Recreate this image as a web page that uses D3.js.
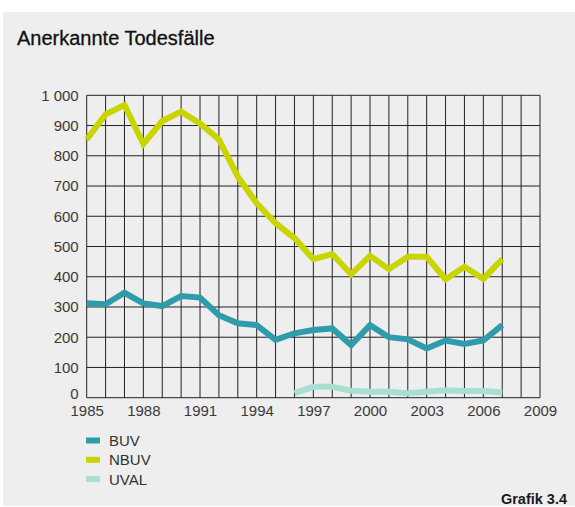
<!DOCTYPE html>
<html>
<head>
<meta charset="utf-8">
<script src="https://cdn.jsdelivr.net/npm/d3@7"></script>
<style>
  html, body { margin: 0; padding: 0; background: #ffffff; }
  svg { display: block; }
  text { font-family: "Liberation Sans", Arial, Helvetica, sans-serif; }
</style>
</head>
<body>
<svg id="chart" width="575" height="507"></svg>
<script>
const years = d3.range(1985, 2008);
const buv = [312, 309, 347, 312, 303, 336, 331, 273, 246, 240, 191, 213, 224, 229, 174, 240, 200, 193, 163, 189, 178, 189, 240];
const nbuv = [854, 937, 968, 839, 915, 946, 907, 854, 731, 643, 577, 528, 458, 475, 408, 469, 425, 466, 466, 392, 433, 393, 458];
const uvalYears = d3.range(1996, 2008);
const uval = [15, 36, 36, 23, 20, 20, 15, 20, 25, 22, 22, 17];
const xTicks = [1985, 1988, 1991, 1994, 1997, 2000, 2003, 2006, 2009];
const yTicks = [0, 100, 200, 300, 400, 500, 600, 700, 800, 900, 1000];
const seriesNames = ["BUV", "NBUV", "UVAL"];
const seriesColors = ["#2f9cac", "#c9d400", "#a9dfd2"];

const svg = d3.select("#chart");
svg.append("rect").attr("x", 3).attr("y", 12).attr("width", 572).attr("height", 494).attr("fill", "#edeeed");

svg.append("text").attr("x", 17).attr("y", 45).attr("font-size", 20).attr("fill", "#111").attr("stroke", "#111").attr("stroke-width", 0.3).text("Anerkannte Todesfälle");

const x = d3.scaleLinear().domain([1985, 2009]).range([86.7, 540]);
const y = d3.scaleLinear().domain([0, 1000]).range([397.7, 95.3]);

const grid = svg.append("g");
grid.selectAll("line.v").data(d3.range(1985, 2010)).join("line")
  .attr("x1", d => x(d)).attr("x2", d => x(d))
  .attr("y1", y(0)).attr("y2", y(1000))
  .attr("stroke", "#222").attr("stroke-width", 1);
grid.selectAll("line.h").data(yTicks).join("line")
  .attr("x1", x(1985)).attr("x2", x(2009))
  .attr("y1", d => y(d)).attr("y2", d => y(d))
  .attr("stroke", "#222").attr("stroke-width", 1);

const yAxis = d3.axisLeft(y).tickValues(yTicks).tickSize(0).tickPadding(8).tickFormat(d => d === 1000 ? "1 000" : String(d));
const gy = svg.append("g").attr("transform", `translate(${x(1985)},0)`).call(yAxis);
gy.select(".domain").remove();
gy.selectAll("text").attr("font-size", 15).attr("fill", "#3a3a3a").attr("font-family", "Liberation Sans, Arial, sans-serif");
gy.selectAll(".tick").filter(d => d === 0).select("text").attr("y", -4);

const xAxis = d3.axisBottom(x).tickValues(xTicks).tickSize(0).tickPadding(8).tickFormat(d3.format("d"));
const gx = svg.append("g").attr("transform", `translate(0,${y(0)})`).call(xAxis);
gx.select(".domain").remove();
gx.selectAll("text").attr("font-size", 15).attr("fill", "#3a3a3a").attr("font-family", "Liberation Sans, Arial, sans-serif");

const line = d3.line().x(d => x(d[0])).y(d => y(d[1]));
const data = [
  years.map((yr, i) => [yr, buv[i]]),
  years.map((yr, i) => [yr, nbuv[i]]),
  uvalYears.map((yr, i) => [yr, uval[i]])
];
const drawOrder = [2, 0, 1];
drawOrder.forEach(k => {
  svg.append("path").datum(data[k]).attr("d", line)
    .attr("fill", "none").attr("stroke", seriesColors[k]).attr("stroke-width", 6)
    .attr("stroke-linejoin", "miter").attr("stroke-linecap", "butt");
});

const legend = svg.append("g");
seriesNames.forEach((name, i) => {
  const cy = 440.5 + i * 19.3;
  legend.append("rect").attr("x", 86).attr("y", cy - 3).attr("width", 14).attr("height", 6).attr("fill", seriesColors[i]);
  legend.append("text").attr("x", 109).attr("y", cy + 5.5).attr("font-size", 15).attr("fill", "#333").text(name);
});

svg.append("text").attr("x", 567).attr("y", 504).attr("text-anchor", "end").attr("font-size", 14.5).attr("font-weight", "bold").attr("fill", "#1a1a1a").text("Grafik 3.4");
</script>
</body>
</html>
